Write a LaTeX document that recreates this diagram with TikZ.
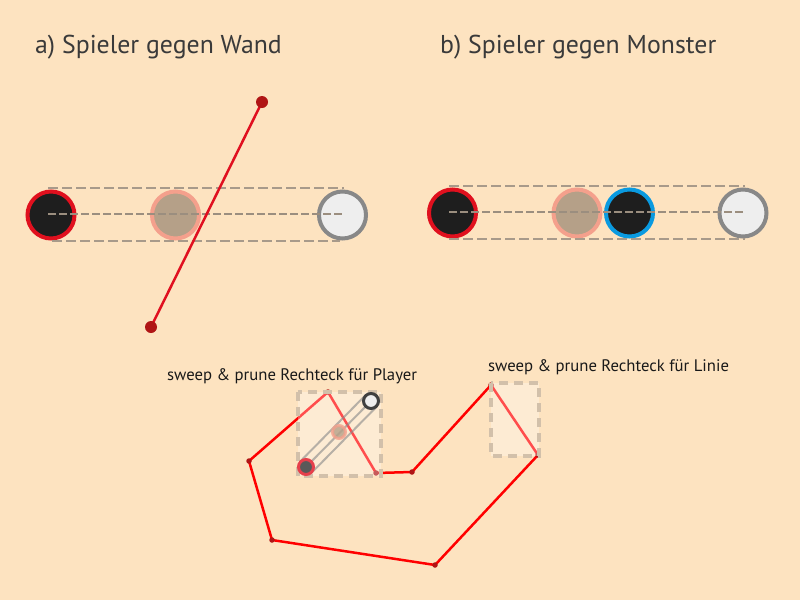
\documentclass[tikz,border=0pt]{standalone}
\usepackage{fontspec}
\setmainfont{PT Sans}
\usetikzlibrary{calc}
\definecolor{bg}{HTML}{FDE3C0}
\definecolor{pred}{HTML}{E0101E}
\definecolor{pdark}{HTML}{1E1E1E}
\definecolor{salmon}{HTML}{F4A08C}
\definecolor{tan}{HTML}{B5A088}
\definecolor{tgray}{HTML}{888888}
\definecolor{tlight}{HTML}{EEEEEE}
\definecolor{mblue}{HTML}{0A9AE0}
\definecolor{sweepline}{HTML}{A89A8A}
\definecolor{wallred}{HTML}{E01020}
\definecolor{dotred}{HTML}{B01515}
\definecolor{polyred}{HTML}{FF0000}
\definecolor{boxedge}{HTML}{D2C0AA}
\definecolor{titlecol}{HTML}{3A3A3A}
\tikzset{
  ball/.style={circle, minimum size=47pt, inner sep=0pt, line width=4pt},
  playerball/.style={ball, draw=pred, fill=pdark},
  ghostball/.style={ball, draw=salmon, fill=tan},
  targetball/.style={ball, draw=tgray, fill=tlight},
  monsterball/.style={ball, draw=mblue, fill=pdark},
  sweepdash/.style={draw=sweepline, line width=2.5pt, dash pattern=on 10pt off 4pt},
  middash/.style={draw=sweepline!92!black, line width=2.3pt, dash pattern=on 8pt off 3pt},
  enddot/.style={circle, fill=dotred, minimum size=12pt, inner sep=0pt},
  vdot/.style={circle, fill=dotred, minimum size=5.5pt, inner sep=0pt},
  polyline/.style={draw=polyred, line width=2.5pt, line join=round},
  spbox/.style={draw=boxedge, line width=3.5pt, dash pattern=on 9pt off 6pt, fill=white, fill opacity=0.3},
  title/.style={font=\fontsize{25.8}{30}\selectfont, text=titlecol, inner sep=0pt, anchor=west},
  label/.style={font=\fontsize{16.7}{20}\selectfont, text=black!90, inner sep=0pt, anchor=west},
  smallball/.style={circle, inner sep=0pt, line width=3pt},
  diag/.style={draw=tgray, draw opacity=0.6, line width=2pt}
}
\begin{document}
\begin{tikzpicture}[x=1pt,y=-1pt]
\fill[bg] (0,0) rectangle (800,600);
\useasboundingbox (0,0) rectangle (800,600);

% titles
\node[title] (ta) at (35,47) {a) Spieler gegen Wand};
\node[title] (tb) at (440,47) {b) Spieler gegen Monster};

% scene a
\node[playerball] (pa) at (51,215) {};
\node[ghostball] (ga) at (175.5,215) {};
\node[targetball] (ra) at (342.5,215) {};
\draw[sweepdash] ($(pa.center)+(-3,-27)$) -- ($(ra.center)+(1.5,-27)$);
\draw[middash] ($(pa.center)+(-3,-1)$) -- ($(ra.center)+(1.5,-1)$);
\draw[sweepdash] ($(pa.center)+(1,26)$) -- ($(ra.center)+(-2.5,26)$);
\coordinate (w1) at (262,102);
\coordinate (w2) at (151,327);
\draw[draw=wallred, line width=2.5pt] (w1) -- (w2);
\node[enddot] (d1) at (w1) {};
\node[enddot] (d2) at (w2) {};

% scene b
\node[playerball] (pb) at (452.5,213) {};
\node[ghostball] (gb) at (577,213) {};
\node[monsterball] (mb) at (629.5,213) {};
\node[targetball] (rb) at (743,213) {};
\draw[sweepdash] ($(pb.center)+(-3.5,-27)$) -- ($(rb.center)+(2,-27)$);
\draw[middash] ($(pb.center)+(-3.5,-1)$) -- ($(rb.center)+(2,-1)$);
\draw[sweepdash] ($(pb.center)+(-3.5,26)$) -- ($(rb.center)+(2,26)$);

% bottom scene
\node[label] (lp) at (167,376) {sweep \& prune Rechteck für Player};
\node[label] (ll) at (488,367) {sweep \& prune Rechteck für Linie};

\coordinate (v1) at (249,461);
\coordinate (v2) at (328,392);
\coordinate (v3) at (376,473);
\coordinate (v4) at (412,472);
\coordinate (v5) at (491,385);
\coordinate (v6) at (538,455);
\coordinate (v7) at (435,565);
\coordinate (v8) at (272,540);
\draw[polyline] (v1) -- (v2) -- (v3) -- (v4) -- (v5) -- (v6) -- (v7) -- (v8) -- cycle;
\foreach \v in {v1,v2,v3,v4,v5,v6,v7,v8} \node[vdot] at (\v) {};

\draw[spbox] (298,392) rectangle (381,476);
\draw[spbox] (491,383) rectangle (539,456);

\coordinate (c1) at (306,467);
\coordinate (c3) at (371,401);
\draw[diag] ($(c1)!8pt!90:(c3)$) -- ($(c3)!8pt!-90:(c1)$);
\draw[diag] (c1) -- (c3);
\draw[diag] ($(c1)!8pt!-90:(c3)$) -- ($(c3)!8pt!90:(c1)$);
\node[smallball, draw=pred!80!white, fill=black!65, minimum size=15pt] (s1) at (c1) {};
\node[smallball, draw=salmon, fill=tan, fill opacity=0.8, draw opacity=0.8, minimum size=13pt] (s2) at (339,432) {};
\node[smallball, draw=black!75, fill=tlight, minimum size=15pt] (s3) at (c3) {};
\end{tikzpicture}
\end{document}
